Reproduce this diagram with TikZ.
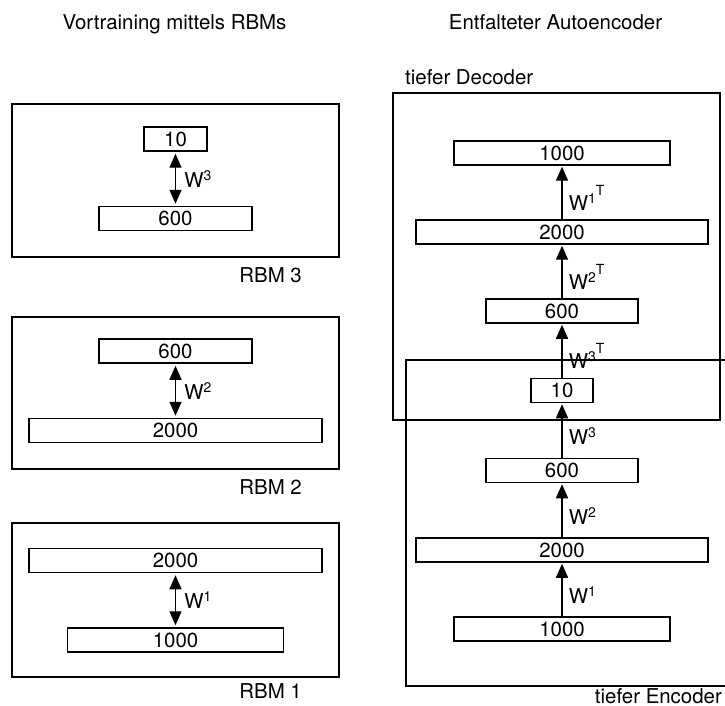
\documentclass[tikz,border=0pt]{standalone}
\usepackage{fontspec}
\setmainfont{TeX Gyre Heros}
\usetikzlibrary{arrows.meta}
\definecolor{AeInk}{RGB}{0,0,0}
\newcommand\aesup[1]{\raisebox{7bp}{\fontsize{14}{16}\selectfont#1}}
\newcommand\aesupT[1]{\aesup{#1\raisebox{8bp}{T}}}
\tikzset{
  ae/frame/.style={
    draw=AeInk,
    line width=1.5pt,
    inner sep=0pt,
    minimum width=327bp,
    minimum height=#1
  },
  ae/layer/.style={
    draw=AeInk,
    line width=1.5pt,
    fill=white,
    inner sep=0pt,
    minimum height=24bp,
    minimum width=#1,
    font=\fontsize{20.5}{24}\selectfont
  },
  ae/text/.style={font=\fontsize{20.5}{24}\selectfont, inner sep=0pt},
  ae/weight/.style={right, inner sep=0pt, font=\fontsize{20.5}{24}\selectfont},
  ae/both/.style={{Triangle[length=14bp,width=12bp]}-{Triangle[length=14bp,width=12bp]}, line width=1.5pt, draw=AeInk, shorten <=2bp, shorten >=2bp},
  ae/up/.style={-{Triangle[length=14bp,width=12bp]}, line width=1.5pt, draw=AeInk, shorten >=1bp}
}

\begin{document}
\begin{tikzpicture}[x=1bp,y=-1bp]
  \useasboundingbox (0,0) rectangle (725,706);

  % titles
  \node[ae/text,anchor=base] (lefttitle) at (174.5,30) {Vortraining mittels RBMs};
  \node[ae/text,anchor=base] (righttitle) at (555.5,30) {Entfalteter Autoencoder};

  % frames
  \node[ae/frame=153bp] (rbm3) at (175.5,180.5) {};
  \node[ae/frame=152bp] (rbm2) at (175.5,393) {};
  \node[ae/frame=154bp] (rbm1) at (175.5,600) {};
  \node[ae/frame=327bp] (decoder) at (556.5,256.5) {};
  \node[ae/frame=326bp] (encoder) at (569.5,523) {};

  % frame captions
  \foreach \name/\txt/\x/\y in {
    cap3/RBM 3/302/282,cap2/RBM 2/302/494,cap1/RBM 1/302/698,
    capenc/tiefer Encoder/722/703}
  {\node[ae/text,anchor=base east] (\name) at (\x,\y) {\txt};}
  \node[ae/text,anchor=base west] (capdec) at (405,85) {tiefer Decoder};

  % layers
  \foreach \name/\txt/\w/\x/\y in {
    rthreehi/10/63/175.5/139,rthreelo/600/153/175.5/218.5,
    rtwohi/600/153/175.5/351,rtwolo/2000/293/175.5/430.5,
    ronehi/2000/293/175.5/560.5,ronelo/1000/216/175.5/640,
    dec1000/1000/216/562/153,dec2000/2000/292/562/232,dec600/600/152/562/311,
    code/10/62/562/390.5,
    enc600/600/152/562/470.5,enc2000/2000/292/562/550,enc1000/1000/216/562/629}
  {\node[ae/layer=\w bp] (\name) at (\x,\y) {\txt};}

  % rbm weights
  \draw[ae/both] (rthreelo) -- node[ae/weight,xshift=8bp]{W\aesup{3}} (rthreehi);
  \draw[ae/both] (rtwolo) -- node[ae/weight,xshift=8bp]{W\aesup{2}} (rtwohi);
  \draw[ae/both] (ronelo) -- node[ae/weight,xshift=8bp]{W\aesup{1}} (ronehi);

  % unrolled autoencoder
  \draw[ae/up] (enc1000) -- node[ae/weight,pos=0.4,xshift=6bp]{W\aesup{1}} (enc2000);
  \draw[ae/up] (enc2000) -- node[ae/weight,pos=0.4,xshift=6bp]{W\aesup{2}} (enc600);
  \draw[ae/up] (enc600) -- node[ae/weight,pos=0.4,xshift=6bp]{W\aesup{3}} (code);
  \draw[ae/up] (code) -- node[ae/weight,pos=0.4,xshift=6bp]{W\aesupT{3}} (dec600);
  \draw[ae/up] (dec600) -- node[ae/weight,pos=0.4,xshift=6bp]{W\aesupT{2}} (dec2000);
  \draw[ae/up] (dec2000) -- node[ae/weight,pos=0.4,xshift=6bp]{W\aesupT{1}} (dec1000);
\end{tikzpicture}
\end{document}
